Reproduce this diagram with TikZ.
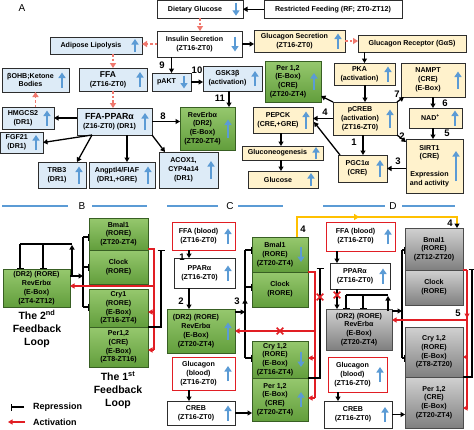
\documentclass[tikz,border=0pt]{standalone}
\usepackage{fontspec}
\setmainfont{Liberation Sans}
\usetikzlibrary{arrows.meta,calc,shapes.misc,decorations.markings}
\definecolor{lb}{RGB}{221,235,247}
\definecolor{bg}{RGB}{255,242,204}
\definecolor{gt}{RGB}{150,200,110}
\definecolor{gb}{RGB}{98,158,60}
\definecolor{gd}{RGB}{56,95,35}
\definecolor{rd}{RGB}{225,30,36}
\definecolor{sal}{RGB}{240,120,110}
\definecolor{bl}{RGB}{91,155,213}
\definecolor{yl}{RGB}{255,192,0}
\definecolor{bxd}{RGB}{45,45,45}
\tikzset{
 bxbase/.style={rectangle, inner sep=0, outer sep=0, line width=0.9pt, draw=bxd},
 bluebox/.style={bxbase, fill=lb},
 beige/.style={bxbase, fill=bg},
 whitebox/.style={bxbase, fill=white},
 redbox/.style={bxbase, draw=rd, fill=white},
 greenbox/.style={bxbase, draw=gd, top color=gt, bottom color=gb},
 greybox/.style={bxbase, draw=black!70, top color=black!18, bottom color=black!50},
 txt/.style={inner sep=0, align=center, font=\fontsize{7.1}{8.8}\selectfont\bfseries},
 arr/.style={line width=1.3pt, -{Triangle[width=5pt,length=4.5pt]}},
 repr/.style={line width=1.3pt, -{Bar[width=7pt]}},
 busline/.style={line width=1.3pt},
 redd/.style={draw=sal, line width=1.3pt, dash pattern=on 2.5pt off 2pt, -{Triangle[width=6pt,length=5pt]}},
 ract/.style={draw=rd, line width=1.3pt, -{Triangle[width=5pt,length=4.5pt]}},
 redl/.style={draw=rd, line width=1.3pt},
 bluearr/.style={draw=bl, line width=2.4pt, -{Triangle[width=7pt,length=5.5pt]}},
 numlbl/.style={inner sep=0, font=\fontsize{9.5}{10}\selectfont\bfseries},
 sepline/.style={draw=bl, line width=1.2pt},
 panellbl/.style={inner sep=0, font=\fontsize{10}{11}\selectfont},
 looptxt/.style={inner sep=0, align=center, font=\fontsize{10.5}{13}\selectfont\bfseries},
 legtxt/.style={inner sep=0, anchor=west, font=\fontsize{9}{10}\selectfont\bfseries},
 xmark/.style={cross out, draw=rd, line width=1.6pt, minimum size=5pt, inner sep=0},
}
\newcommand{\bx}[8]{%
 \node[#2, minimum width={(#5-#3)*1pt}, minimum height={(#6-#4)*1pt}] (#1) at ({(#3+#5)/2},{(#4+#6)/2}) {};
 \ifdim #7pt=0pt
  \node[txt] (#1-t) at (#1.center) {#8};
 \else
  \node[txt] (#1-t) at ($(#1.center)+(-5,0)$) {#8};
  \draw[bluearr] ({#5-7},{(#4+#6)/2+(#7)/2}) -- ({#5-7},{(#4+#6)/2-(#7)/2});
 \fi}
\begin{document}
\begin{tikzpicture}[x=1pt,y=-1pt]
\fill[white] (0,0) rectangle (474,429);
\useasboundingbox (0,0) rectangle (474,429);
% ---------------- Panel A ----------------
\node[panellbl] (pA) at (22,8) {A};
\bx{dg}{whitebox}{157}{0.5}{243}{18}{-13}{Dietary Glucose}
\bx{rf}{whitebox}{264}{0.5}{402}{18}{0}{Restricted Feeding (RF; ZT0-ZT12)}
\bx{ins}{whitebox}{157}{31}{242}{57}{-15}{Insulin Secretion\\(ZT16-ZT0)}
\bx{gs}{beige}{254}{30}{345}{52}{15}{Glucagon Secretion\\(ZT16-ZT0)}
\bx{gr}{beige}{358}{35}{466}{52}{0}{Glucagon Receptor (GαS)}
\bx{adi}{bluebox}{50}{37}{142}{54}{13}{Adipose Lipolysis}
\bx{ffa}{bluebox}{79}{68}{147}{91}{15}{{\fontsize{8.5}{9.5}\selectfont FFA}\\(ZT16-ZT0)}
\bx{ket}{bluebox}{2}{68}{69}{92}{15}{βOHB;Ketone\\Bodies}
\bx{pakt}{bluebox}{152}{73}{191}{91}{-13}{pAKT}
\bx{gsk}{bluebox}{203}{66}{262}{91}{15}{GSK3β\\(activation)}
\bx{perA}{greenbox}{265}{61}{321}{102}{17}{Per 1,2\\(E-Box)\\(CRE)\\(ZT20-ZT4)}
\bx{pka}{beige}{334}{63}{395}{85}{15}{PKA\\(activation)}
\bx{nam}{beige}{401}{63}{465}{97}{17}{NAMPT\\(CRE)\\(E-Box)}
\bx{hmg}{bluebox}{2}{107}{54}{129}{15}{HMGCS2\\(DR1)}
\bx{fgf}{bluebox}{0.5}{132}{43}{153}{15}{FGF21\\(DR1)}
\bx{ppa}{bluebox}{77}{108}{152}{135}{17}{{\fontsize{8.8}{10}\selectfont FFA-PPARα}\\(Z16-ZT0) (DR1)}
\bx{revA}{greenbox}{180}{107}{235}{150}{18}{RevErbα\\(DR2)\\(E-Box)\\(ZT20-ZT4)}
\bx{trb}{bluebox}{38}{162}{86}{188}{17}{TRB3\\(DR1)}
\bx{ang}{bluebox}{89}{162}{155}{188}{17}{Angptl4/FIAF\\(DR1,+GRE)}
\bx{aco}{bluebox}{159}{152}{218}{188}{18}{ACOX1,\\CYP4a14\\(DR1)}
\bx{pep}{beige}{253}{107}{313}{133}{17}{PEPCK\\(CRE,+GRE)}
\bx{glu}{beige}{242}{146}{323}{160}{12}{Gluconeogenesis}
\bx{gls}{beige}{248}{171}{318}{188}{13}{Glucose}
\bx{pcr}{beige}{333}{102}{397}{135}{18}{pCREB\\(activation)\\(ZT16-ZT0)}
\bx{pgc}{beige}{338}{155}{387}{182}{17}{PGC1α\\(CRE)}
\bx{nad}{beige}{409}{108}{462}{128}{15}{NAD\textsuperscript{+}}
\bx{sir}{beige}{406}{139}{463}{193}{30}{SIRT1\\(CRE)\\[9pt]Expression\\and activity}
% connectors A
\draw[redd] (dg.south) -- (dg.south |- ins.north);
\draw[arr] (rf.west) -- (dg.east);
\draw[redd] (ins.west) -- (ins.west -| adi.east);
\draw[arr] (ins.east) -- (ins.east -| gs.west);
\draw[redd] (gs.east) -- (gs.east -| gr.west);
\draw[arr] (pka.north |- gr.south) -- (pka.north);
\draw[redd] (ffa.north |- adi.south) -- (ffa.north);
\draw[redd] (ffa.south) -- (ffa.south |- ppa.north);
\draw[redd] (ket.south |- hmg.north) -- (ket.south);
\draw[arr] (pakt.north |- ins.south) -- (pakt.north);
\draw[arr] (pakt.east) -- (pakt.east -| gsk.west);
\draw[arr] (229,0 |- gsk.south) -- (229,0 |- revA.north);
\draw[arr] (ppa.east) -- (ppa.east -| revA.west);
\draw[arr] (ppa.west |- hmg.east) -- (hmg.east);
\draw[arr] ($(ppa.south west)+(15,0)$) -- (fgf.east);
\draw[arr] ($(ppa.south west)+(15,0)$) -- ($(trb.north east)+(-9,0)$);
\draw[arr] (127,0 |- ppa.south) -- (127,0 |- ang.north);
\draw[arr] (ppa.south east) -- ($(aco.north west)+(6,0)$);
\draw[arr] (365,0 |- pka.south) -- (365,0 |- pcr.north);
\draw[arr] (pcr.west) -- (pcr.west -| pep.east);
\draw[arr] ($(pgc.north west)+(2,0)$) -- ($(pep.east)+(1,2)$);
\draw[arr] (363,0 |- pcr.south) -- (363,0 |- pgc.north);
\draw[arr] (pcr.south east) -- ($(sir.north west)+(0,3)$);
\draw[arr] (pgc.east -| sir.west) -- (pgc.east);
\draw[arr] (pcr.north east) -- ($(nam.south west)+(3,0)$);
\draw[arr] (pcr.north west) -- ($(perA.south east)+(0,-6)$);
\draw[arr] (433,0 |- nam.south) -- (433,0 |- nad.north);
\draw[arr] (433,0 |- nad.south) -- (433,0 |- sir.north);
\draw[arr] (281,0 |- pep.south) -- (281,0 |- glu.north);
\draw[arr] (281,0 |- glu.south) -- (281,0 |- gls.north);
\node[numlbl] (n9) at (162,65) {9};
\node[numlbl] (n10) at (197,70) {10};
\node[numlbl] (n11) at (220,98) {11};
\node[numlbl] (n8) at (163,116) {8};
\node[numlbl] (n4) at (325,112) {4};
\node[numlbl] (n1) at (354,142) {1};
\node[numlbl] (n2) at (402,136) {2};
\node[numlbl] (n3) at (398,161) {3};
\node[numlbl] (n7) at (397,94) {7};
\node[numlbl] (n6) at (445,103) {6};
\node[numlbl] (n5) at (447,133) {5};
% separators
\draw[sepline] (2,206) -- (68,206);
\node[panellbl] (pB) at (82,206) {B};
\draw[sepline] (92,206) -- (147,206);
\draw[sepline] (167,206) -- (218,206);
\node[panellbl] (pC) at (230,206) {C};
\draw[sepline] (238,206) -- (283,206);
\draw[sepline] (323,206) -- (385,206);
\node[panellbl] (pD) at (393,206) {D};
\draw[sepline] (402,206) -- (455,206);
% ---------------- Panel B ----------------
\bx{revB}{greenbox}{3}{269}{70}{307}{0}{(DR2) (RORE)\\RevErbα\\(E-Box)\\(ZT4-ZT12)}
\bx{bmB}{greenbox}{89}{218}{148}{250}{0}{Bmal1\\(RORE)\\(ZT20-ZT4)}
\bx{clB}{greenbox}{89}{250}{148}{284}{0}{Clock\\(RORE)}
\bx{cryB}{greenbox}{89}{289}{148}{327}{0}{Cry1\\(RORE)\\(E-Box)\\(ZT16-ZT4)}
\bx{perB}{greenbox}{89}{327}{148}{367}{0}{Per1,2\\(CRE)\\(E-Box)\\(ZT8-ZT16)}
\node[looptxt] (l2) at (37,329) {The 2\textsuperscript{nd}\\Feedback\\Loop};
\node[looptxt] (l1) at (118,390) {The 1\textsuperscript{st}\\Feedback\\Loop};
\draw[busline] (83,237) -- (83,307);
\draw[repr] (83,237) -- (bmB.west |- 0,237);
\draw[repr] (83,267) -- (clB.west |- 0,267);
\draw[repr] (83,307) -- (cryB.west |- 0,307);
\draw[arr] (revB.east |- 0,276) -- (83,276);
\draw[arr] (72,276) -- (72,245);
\draw[busline] (72,244) -- (20,244);
\draw[repr] (20,244) -- (20,0 |- revB.north);
\draw[repr] (43,244) -- (43,0 |- revB.north);
\draw[redl] (bmB.east |- 0,249) -- (154,249) -- (154,350);
\draw[redl] (148,286) -- (154,286);
\draw[ract] (154,286) -- (revB.east |- 0,286);
\draw[ract] (154,312) -- (cryB.east |- 0,312);
\draw[ract] (154,350) -- (perB.east |- 0,350);
\draw[repr] (cryB.south east) -- (161,327) -- (161,250);
% legend
\draw[repr] (24,407) -- (11,407);
\node[legtxt] (lr) at (33,407) {Repression};
\draw[ract] (25,422) -- (8,422);
\node[legtxt] (la) at (33,422) {Activation};
% ---------------- Panel C ----------------
\bx{ffaC}{redbox}{172}{222}{235}{250}{15}{FFA (blood)\\(ZT16-ZT0)}
\bx{ppC}{whitebox}{174}{258}{235}{288}{15}{PPARα\\(ZT16-ZT0)}
\bx{revC}{greenbox}{167}{309}{235}{353}{17}{(DR2) (RORE)\\RevErbα\\(E-Box)\\(ZT20-ZT4)}
\bx{glC}{redbox}{172}{357}{235}{390}{15}{Glucagon\\(blood)\\(ZT16-ZT0)}
\bx{creC}{whitebox}{167}{401}{235}{425}{15}{CREB\\(ZT16-ZT0)}
\bx{bmC}{greenbox}{252}{237}{308}{272}{-15}{Bmal1\\(RORE)\\(ZT20-ZT4)}
\bx{clC}{greenbox}{252}{272}{308}{307}{0}{Clock\\(RORE)}
\bx{cryC}{greenbox}{252}{341}{308}{378}{-15}{Cry 1,2\\(RORE)\\(E-Box)\\(ZT16-ZT4)}
\bx{perC}{greenbox}{252}{378}{308}{421}{15}{Per 1,2\\(E-Box)\\(CRE)\\(ZT20-ZT4)}
\draw[arr] (189,0 |- ffaC.south) -- (189,0 |- ppC.north);
\draw[arr] (189,0 |- ppC.south) -- (189,0 |- revC.north);
\draw[arr] (189,0 |- glC.south) -- (189,0 |- creC.north);
\draw[arr] (creC.east) -- (creC.east -| perC.west);
\draw[busline] (245,250) -- (245,358);
\draw[repr] (245,250) -- (bmC.west |- 0,250);
\draw[repr] (245,287) -- (clC.west |- 0,287);
\draw[repr] (245,358) -- (cryC.west |- 0,358);
\draw[arr] (revC.east |- 0,312) -- (245,312);
\draw[arr] (245,312) -- (245,299);
\draw[redl] (bmC.south east) -- (315,272) -- (315,398);
\draw[ract] (315,331) -- (revC.east |- 0,331);
\draw[ract] (315,358) -- (cryC.east |- 0,358);
\draw[ract] (315,398) -- (perC.east |- 0,398);
\draw[repr] (perC.north east) -- (320,378) -- (320,268);
\node[xmark] (xc1) at (280,331) {};
\node[xmark] (xc2) at (320,297) {};
\node[numlbl] (c1) at (182,257) {1};
\node[numlbl] (c2) at (181,301) {2};
\node[numlbl] (c3) at (237,301) {3};
\node[numlbl] (c4) at (303,229) {4};
% ---------------- Panel D ----------------
\bx{ffaD}{redbox}{326}{222}{395}{251}{15}{FFA (blood)\\(ZT16-ZT0)}
\bx{ppD}{whitebox}{330}{263}{390}{289}{15}{PPARα\\(ZT16-ZT0)}
\bx{revD}{greybox}{326}{309}{392}{350}{0}{(DR2) (RORE)\\RevErbα\\(E-Box)\\(ZT20-ZT4)}
\bx{glD}{redbox}{328}{357}{387}{392}{15}{Glucagon\\(blood)\\(ZT16-ZT0)}
\bx{creD}{whitebox}{324}{401}{392}{428}{15}{CREB\\(ZT16-ZT0)}
\bx{bmD}{greybox}{405}{228}{463}{270}{0}{Bmal1\\(RORE)\\(ZT12-ZT20)}
\bx{clD}{greybox}{405}{270}{463}{305}{0}{Clock\\(RORE)}
\bx{cryD}{greybox}{405}{327}{463}{377}{0}{Cry 1,2\\(RORE)\\(E-Box)\\(ZT8-ZT20)}
\bx{perD}{greybox}{405}{377}{463}{428}{0}{Per 1,2\\(CRE)\\(E-Box)\\(ZT20-ZT4)}
\draw[arr] (337,0 |- ffaD.south) -- (337,0 |- ppD.north);
\draw[arr] (337,0 |- ppD.south) -- (337,0 |- revD.north);
\node[xmark] (xd1) at (337,295) {};
\draw[arr] (338,0 |- glD.south) -- (338,0 |- creD.north);
\draw[arr] (creD.east) -- (creD.east -| perD.west);
\draw[busline] (346,295) -- (388,295);
\draw[repr] (346,295) -- (346,0 |- revD.north);
\draw[repr] (363,295) -- (363,0 |- revD.north);
\draw[arr] (388,311) -- (388,296);
\draw[busline] (402,250) -- (402,358);
\draw[repr] (402,250) -- (bmD.west |- 0,250);
\draw[repr] (402,358) -- (cryD.west |- 0,358);
\draw[arr] (revD.east |- 0,311) -- (402,311);
\draw[redl] (bmD.south east) -- (467,270);
\draw[ract] (467,270) -- (467,318);
\draw[redl] (467,316) -- (467,408);
\draw[ract] (467,320) -- (revD.east |- 0,320);
\draw[ract] (467,357) -- (cryD.east |- 0,357);
\draw[ract] (467,408) -- (perD.east |- 0,408);
\draw[repr] (perD.north east) -- (472,377) -- (472,269);
\node[numlbl] (d4) at (450,223) {4};
\node[numlbl] (d5) at (458,313) {5};
% yellow link C -> D
\draw[yl, line width=1.5pt, -{Triangle[width=5pt,length=4.5pt,color=black]},
  postaction={decorate,decoration={markings,mark=at position 0.43 with {\arrow[yl]{Triangle[width=6pt,length=5pt]}}}}]
  (297,0 |- bmC.north) -- (297,217) -- (457,217) -- (457,0 |- bmD.north);
\end{tikzpicture}
\end{document}
